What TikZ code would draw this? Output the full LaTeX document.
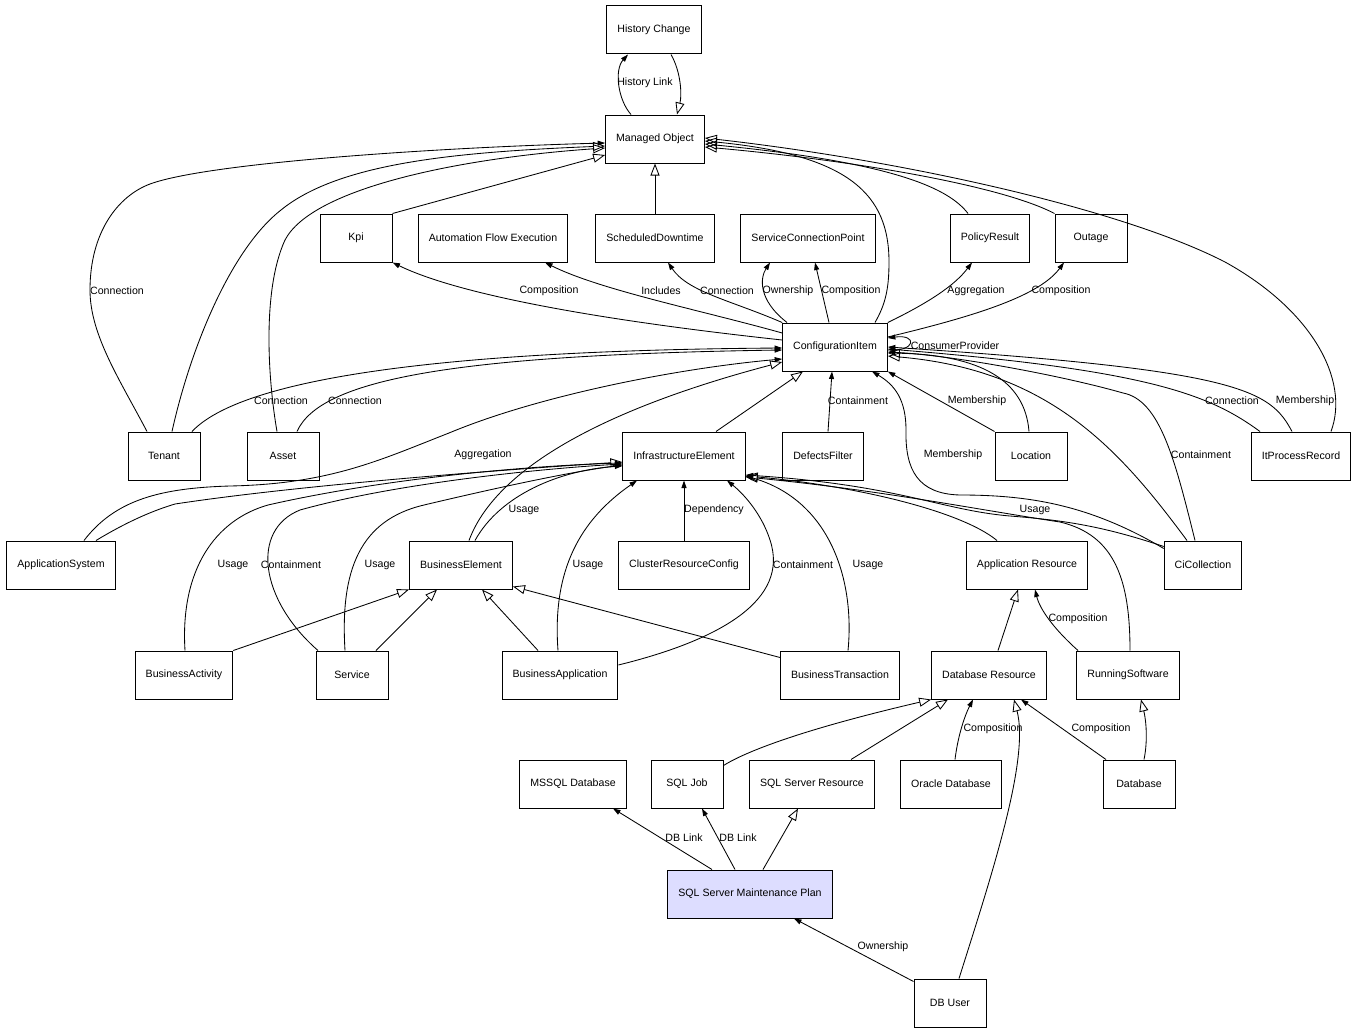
\documentclass[tikz,border=0pt]{standalone}
\usepackage{fontspec}
\setmainfont{Liberation Sans}
\usepackage{xcolor}
\usepackage{tikz}
\usetikzlibrary{arrows.meta}
\definecolor{planfill}{RGB}{221,221,255}

\begin{document}
\begin{tikzpicture}[x=1pt,y=-1pt,
  box/.style={draw,line width=1pt,minimum width=72pt,minimum height=48pt,inner xsep=10.5pt,font=\fontsize{10.6}{12}\selectfont},
  hlbox/.style={box,fill=planfill},
  lbl/.style={inner sep=0pt,font=\fontsize{10.6}{12}\selectfont},
  inh/.style={line width=0.85pt,-{Triangle[open,length=12pt,width=9pt]}},
  rel/.style={line width=0.85pt,-{Triangle[length=7.5pt,width=5pt]}}]
\useasboundingbox (0,0) rectangle (1359,1033);

% Classes
\node[box] (hc) at (654,30) {History Change};
\node[box] (mo) at (655,139) {Managed Object};
\node[box] (kpi) at (356,238) {Kpi};
\node[box] (afe) at (493,238) {Automation Flow Execution};
\node[box] (sd) at (655,238) {ScheduledDowntime};
\node[box] (scp) at (808,238) {ServiceConnectionPoint};
\node[box] (pr) at (990,238) {PolicyResult};
\node[box] (outage) at (1091,238) {Outage};
\node[box] (ci) at (835,347) {ConfigurationItem};
\node[box] (tenant) at (164,456) {Tenant};
\node[box] (asset) at (283,456) {Asset};
\node[box] (ie) at (684,456) {InfrastructureElement};
\node[box] (df) at (823,456) {DefectsFilter};
\node[box] (loc) at (1031,456) {Location};
\node[box] (ipr) at (1301,456) {ItProcessRecord};
\node[box] (appsys) at (61,565) {ApplicationSystem};
\node[box] (be) at (461,565) {BusinessElement};
\node[box] (crc) at (684,565) {ClusterResourceConfig};
\node[box] (ar) at (1027,565) {Application Resource};
\node[box] (cic) at (1203,565) {CiCollection};
\node[box] (bact) at (184,675) {BusinessActivity};
\node[box] (svc) at (352,675) {Service};
\node[box] (bapp) at (560,675) {BusinessApplication};
\node[box] (bt) at (840,675) {BusinessTransaction};
\node[box] (dr) at (989,675) {Database Resource};
\node[box] (rs) at (1128,675) {RunningSoftware};
\node[box] (mssql) at (573,784) {MSSQL Database};
\node[box] (sqljob) at (687,784) {SQL Job};
\node[box] (ssr) at (812,784) {SQL Server Resource};
\node[box] (odb) at (951,784) {Oracle Database};
\node[box] (db) at (1139,784) {Database};
\node[hlbox] (ssmp) at (750,894) {SQL Server Maintenance Plan};
\node[box] (dbu) at (950,1003) {DB User};

% Managed Object
\draw[rel] ([xshift=-24pt]mo.north) .. controls (618,100) and (614,70) .. ([xshift=-26pt]hc.south);
\draw[inh] ([xshift=17pt]hc.south) .. controls (681,72) and (682,95) .. ([xshift=22pt]mo.north);
\draw[inh] (sd.north) -- (mo.south);
\draw[inh] (kpi.north east) -- ([yshift=-16pt]mo.west);
\draw[rel] ([xshift=-17pt]tenant.north) .. controls (120,380) and (90,335) .. (90,290) .. controls (90,232) and (118,196) .. (150,184) .. controls (210,162) and (450,147) .. ([yshift=-4pt]mo.west);
\draw[inh] ([xshift=8pt]tenant.north) .. controls (190,350) and (230,250) .. (281,210) .. controls (340,162) and (460,152) .. ([yshift=-7pt]mo.west);
\draw[inh] ([xshift=-6pt]asset.north) .. controls (268,380) and (262,290) .. (285,240) .. controls (312,188) and (460,158) .. ([yshift=-9pt]mo.west);
\draw[inh] ([xshift=40pt]ci.north) .. controls (885,305) and (889,290) .. (889,262) .. controls (889,195) and (850,155) .. ([yshift=-2pt]mo.east);
\draw[inh] ([xshift=-22pt]pr.north) .. controls (950,190) and (900,163) .. ([yshift=-5pt]mo.east);
\draw[inh] (outage.north west) .. controls (1000,185) and (850,160) .. ([yshift=-8pt]mo.east);
\draw[inh] ([xshift=30pt]ipr.north) .. controls (1350,380) and (1312,310) .. (1225,262) .. controls (1120,208) and (900,160) .. ([yshift=1pt]mo.east);

% ConfigurationItem, outgoing
\draw[rel] ([yshift=7pt]ci.west) .. controls (690,330) and (480,305) .. (kpi.south east);
\draw[rel] ([yshift=14pt]ci.west) .. controls (700,310) and (600,290) .. ([xshift=52pt]afe.south);
\draw[rel] (ci.north west) .. controls (730,300) and (688,292) .. ([xshift=13pt]sd.south);
\draw[rel] ([xshift=-48pt]ci.north) .. controls (758,300) and (760,278) .. ([xshift=-38pt]scp.south);
\draw[rel] ([xshift=-6pt]ci.north) -- ([xshift=7pt]scp.south);
\draw[rel] (ci.north east) .. controls (930,302) and (955,285) .. ([xshift=-18pt]pr.south);
\draw[rel] ([yshift=10pt]ci.east) .. controls (980,315) and (1040,295) .. ([xshift=-27pt]outage.south);
\draw[rel] ([yshift=-3pt]ci.east) .. controls (916,352) and (918,334) .. ([yshift=9pt]ci.east);

% ConfigurationItem, incoming
\draw[rel] ([xshift=28pt]tenant.north) .. controls (250,370) and (500,350) .. ([yshift=-1pt]ci.west);
\draw[rel] ([xshift=14pt]asset.north) .. controls (320,380) and (450,355) .. ([yshift=-3pt]ci.west);
\draw[rel] ([xshift=23pt]appsys.north) .. controls (115,500) and (160,488) .. (230,486) .. controls (330,484) and (380,460) .. (449,433) .. controls (540,395) and (680,368) .. ([yshift=-12pt]ci.west);
\draw[inh] ([xshift=8pt]be.north) .. controls (495,470) and (600,410) .. ([yshift=-15pt]ci.west);
\draw[inh] ([xshift=32pt]ie.north) -- ([xshift=-32pt]ci.south);
\draw[rel] ([xshift=5pt]df.north) -- ([xshift=-3pt]ci.south);
\draw[rel] (loc.north west) -- (ci.south east);
\draw[inh] ([xshift=-2pt]loc.north) .. controls (1025,380) and (980,355) .. ([yshift=-6pt]ci.east);
\draw[rel] ([yshift=-8pt]cic.north west) .. controls (1090,505) and (1030,495) .. (960,495) .. controls (918,494) and (905,470) .. (906,430) .. controls (906,400) and (895,385) .. ([xshift=37pt]ci.south);
\draw[inh] ([xshift=-16pt]cic.north) .. controls (1120,450) and (1050,370) .. ([yshift=-9pt]ci.east);
\draw[rel] ([xshift=-8pt]cic.north) .. controls (1175,460) and (1160,400) .. (1123,393) .. controls (1060,375) and (950,355) .. ([yshift=-5pt]ci.east);
\draw[rel] ([xshift=-41pt]ipr.north) .. controls (1210,395) and (1150,370) .. ([yshift=-2pt]ci.east);
\draw[rel] ([xshift=-9pt]ipr.north) .. controls (1270,390) and (1240,370) .. (ci.east);

% InfrastructureElement
\draw[inh] ([xshift=35pt]appsys.north) .. controls (130,520) and (155,510) .. (175,504) .. controls (300,485) and (500,470) .. ([yshift=-6pt]ie.west);
\draw[rel] ([xshift=14pt]be.north) .. controls (500,495) and (560,470) .. ([yshift=-10pt]ie.west);
\draw[rel] ([xshift=1pt]bact.north) .. controls (180,570) and (215,520) .. (268,505) .. controls (400,475) and (550,465) .. ([yshift=-7pt]ie.west);
\draw[rel] ([xshift=-34pt]svc.north) .. controls (260,600) and (250,530) .. (300,510) .. controls (400,482) and (550,468) .. ([yshift=-8pt]ie.west);
\draw[rel] ([xshift=-7pt]svc.north) .. controls (340,570) and (360,520) .. (424,505) .. controls (500,487) and (570,472) .. ([yshift=-9pt]ie.west);
\draw[rel] (crc.north) -- (ie.south);
\draw[rel] ([xshift=-2pt]bapp.north) .. controls (552,570) and (580,520) .. ([xshift=-47pt]ie.south);
\draw[rel] ([yshift=10pt]bapp.east) .. controls (720,640) and (790,600) .. (770,540) .. controls (762,515) and (745,495) .. ([xshift=43pt]ie.south);
\draw[rel] ([xshift=8pt]bt.north) .. controls (855,580) and (830,500) .. ([yshift=-20pt]ie.east);
\draw[inh] ([xshift=-30pt]ar.north) .. controls (960,510) and (850,485) .. ([yshift=-20pt]ie.east);
\draw[inh] ([xshift=2pt]rs.north) .. controls (1130,580) and (1115,535) .. (1060,522) .. controls (980,510) and (880,490) .. ([yshift=-21pt]ie.east);
\draw[rel] ([yshift=-6pt]cic.north west) .. controls (1100,525) and (1060,520) .. (1010,516) .. controls (940,510) and (900,485) .. ([yshift=-19pt]ie.east);

% BusinessElement
\draw[inh] (bact.north east) -- (be.south west);
\draw[inh] ([xshift=24pt]svc.north) -- ([xshift=-24pt]be.south);
\draw[inh] ([xshift=-22pt]bapp.north) -- ([xshift=21pt]be.south);
\draw[inh] ([yshift=-7pt]bt.north west) -- ([yshift=3pt]be.south east);

% Application / Database Resource
\draw[inh] ([xshift=9pt]dr.north) -- ([xshift=-9pt]ar.south);
\draw[rel] ([xshift=-50pt]rs.north) .. controls (1055,630) and (1040,610) .. ([xshift=8pt]ar.south);
\draw[inh] ([yshift=-6pt]sqljob.north east) .. controls (745,752) and (800,730) .. (dr.south west);
\draw[inh] ([xshift=39pt]ssr.north) -- ([xshift=-41pt]dr.south);
\draw[rel] ([xshift=4pt]odb.north) .. controls (958,735) and (965,715) .. ([xshift=-16pt]dr.south);
\draw[inh] ([xshift=9pt]dbu.north) .. controls (990,880) and (1030,760) .. ([xshift=25pt]dr.south);
\draw[rel] ([xshift=-33pt]db.north) -- ([xshift=32pt]dr.south);
\draw[inh] ([xshift=5pt]db.north) .. controls (1148,740) and (1146,720) .. ([xshift=13pt]rs.south);

% Maintenance Plan
\draw[rel] ([xshift=-38pt]ssmp.north) -- ([xshift=40pt]mssql.south);
\draw[rel] ([xshift=-15pt]ssmp.north) -- ([xshift=15pt]sqljob.south);
\draw[inh] ([xshift=13pt]ssmp.north) -- ([xshift=-14pt]ssr.south);
\draw[rel] ([yshift=-3pt]dbu.north west) -- ([xshift=44pt]ssmp.south);

% Labels
\node[lbl] (lHist) at (645,83) {History Link};
\node[lbl] (lTenMo) at (117,291) {Connection};
\node[lbl] (lKpi) at (549,291) {Composition};
\node[lbl] (lAfe) at (661,291) {Includes};
\node[lbl] (lSd) at (727,291) {Connection};
\node[lbl] (lScpOwn) at (788,291) {Ownership};
\node[lbl] (lScpComp) at (851,291) {Composition};
\node[lbl] (lPr) at (976,291) {Aggregation};
\node[lbl] (lOutage) at (1061,291) {Composition};
\node[lbl] (lSelf) at (955,346) {ConsumerProvider};
\node[lbl] (lTenCi) at (281,401) {Connection};
\node[lbl] (lAssetCi) at (355,401) {Connection};
\node[lbl] (lDf) at (858,401) {Containment};
\node[lbl] (lLoc) at (977,401) {Membership};
\node[lbl] (lIprConn) at (1232,401) {Connection};
\node[lbl] (lIprMem) at (1305,401) {Membership};
\node[lbl] (lAppSys) at (483,455) {Aggregation};
\node[lbl] (lCicMem) at (953,455) {Membership};
\node[lbl] (lCicCont) at (1201,455) {Containment};
\node[lbl] (lBeUse) at (524,510) {Usage};
\node[lbl] (lCrc) at (714,510) {Dependency};
\node[lbl] (lCicUse) at (1035,510) {Usage};
\node[lbl] (lBactUse) at (233,565) {Usage};
\node[lbl] (lSvcCont) at (291,565) {Containment};
\node[lbl] (lSvcUse) at (380,565) {Usage};
\node[lbl] (lBappUse) at (588,565) {Usage};
\node[lbl] (lBappCont) at (803,565) {Containment};
\node[lbl] (lBtUse) at (868,565) {Usage};
\node[lbl] (lRs) at (1078,619) {Composition};
\node[lbl] (lOdb) at (993,729) {Composition};
\node[lbl] (lDb) at (1101,729) {Composition};
\node[lbl] (lMssql) at (684,838) {DB Link};
\node[lbl] (lSqlJob) at (738,838) {DB Link};
\node[lbl] (lOwn) at (883,947) {Ownership};
\end{tikzpicture}
\end{document}
